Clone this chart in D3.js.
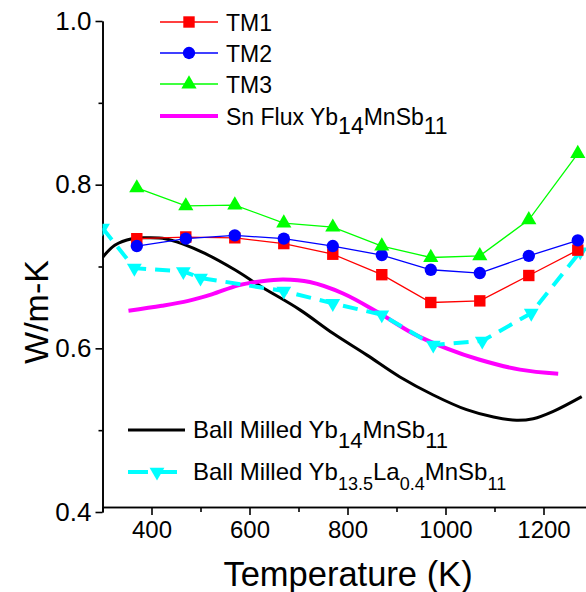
<!DOCTYPE html>
<html><head><meta charset="utf-8">
<script src="https://cdn.jsdelivr.net/npm/d3@7"></script>
<style>
html,body{margin:0;padding:0;background:#fff;}
text{font-family:"Liberation Sans",Arial,sans-serif;fill:#000;}
</style></head>
<body>
<svg id="chart" width="586" height="592"></svg>
<script>
// ---- data ----
const tmTemps = [370, 470, 570, 670, 770, 870, 970, 1070, 1170, 1270];
const tm1 = [0.734, 0.736, 0.735, 0.728, 0.715, 0.690, 0.656, 0.658, 0.689, 0.720];
const tm2 = [0.725, 0.734, 0.738, 0.734, 0.725, 0.714, 0.696, 0.692, 0.713, 0.732];
const tm3 = [0.796, 0.774, 0.775, 0.753, 0.748, 0.725, 0.711, 0.713, 0.757, 0.838];

const snTemps = [353, 421, 475, 523, 577, 625, 669, 723, 791, 862, 934, 1002, 1070, 1152, 1230];
const snFlux  = [0.646, 0.652, 0.658, 0.666, 0.677, 0.682, 0.684, 0.681, 0.667, 0.644, 0.618, 0.600, 0.586, 0.574, 0.569];

const bmTemps = [300, 325, 360, 393, 428, 462, 509, 570, 625, 703, 771, 839, 907, 975, 1043, 1098, 1145, 1179, 1220, 1278];
const bm      = [0.711, 0.726, 0.734, 0.735, 0.734, 0.728, 0.716, 0.696, 0.675, 0.647, 0.618, 0.592, 0.565, 0.543, 0.525, 0.516, 0.512, 0.514, 0.523, 0.541];

const laTemps = [300, 365, 465, 500, 670, 770, 870, 975, 1075, 1175, 1275];
const la      = [0.747, 0.698, 0.694, 0.686, 0.670, 0.655, 0.641, 0.604, 0.609, 0.643, 0.718];

const xMajor = [400, 600, 800, 1000, 1200];
const xMinor = [300, 500, 700, 900, 1100];
const yMajor = [0.4, 0.6, 0.8, 1.0];
const yMinor = [0.5, 0.7, 0.9];

// ---- layout ----
const svg = d3.select("#chart");
const FONT = '"Liberation Sans",Arial,sans-serif';
const x = d3.scaleLinear().domain([300, 1290]).range([102.5, 587.6]);
const y = d3.scaleLinear().domain([0.4, 1.0]).range([512, 21]);
const xAxisY = 507;

svg.append("defs").append("clipPath").attr("id","clip")
  .append("rect").attr("x", x(300)).attr("y", 0).attr("width", 600).attr("height", xAxisY);

// axes
const gx = svg.append("g").attr("transform", `translate(0,${xAxisY})`)
  .call(d3.axisBottom(x).tickValues(xMajor).tickSize(8).tickSizeOuter(0).tickPadding(6).tickFormat(d3.format("d")));
svg.append("g").attr("transform", `translate(0,${xAxisY})`)
  .call(d3.axisBottom(x).tickValues(xMinor).tickSize(5).tickSizeOuter(0).tickFormat(""));
const gy = svg.append("g").attr("transform", `translate(${x(300)},0)`)
  .call(d3.axisLeft(y).tickValues(yMajor).tickSize(7).tickSizeOuter(0).tickPadding(4).tickFormat(d3.format(".1f")));
svg.append("g").attr("transform", `translate(${x(300)},0)`)
  .call(d3.axisLeft(y).tickValues(yMinor).tickSize(4).tickSizeOuter(0).tickFormat(""));
svg.selectAll(".domain, .tick line").attr("stroke","#000").attr("stroke-width",1.6);
gx.selectAll("text").attr("font-size", 24).attr("font-family", FONT).attr("fill","#000");
gy.selectAll("text").attr("font-size", 26).attr("font-family", FONT).attr("fill","#000");

// axis titles
svg.append("text").attr("x", 348).attr("y", 586).attr("text-anchor","middle")
  .attr("font-size", 34.5).text("Temperature (K)");
svg.append("text").attr("transform","translate(48,312) rotate(-90)").attr("text-anchor","middle")
  .attr("font-size", 34).text("W/m-K");

// ---- series ----
const plot = svg.append("g").attr("clip-path","url(#clip)");
const smooth = d3.line().x(d=>x(d[0])).y(d=>y(d[1])).curve(d3.curveCatmullRom.alpha(0.5));
const straight = d3.line().x(d=>x(d[0])).y(d=>y(d[1]));

plot.append("path").datum(d3.zip(bmTemps, bm)).attr("d", smooth)
  .attr("fill","none").attr("stroke","#000").attr("stroke-width",3);
plot.append("path").datum(d3.zip(snTemps, snFlux)).attr("d", smooth)
  .attr("fill","none").attr("stroke","#ff00ff").attr("stroke-width",4);

const triDown = d3.symbol().type(d3.symbolTriangle).size(95);
plot.append("path").datum(d3.zip(laTemps, la)).attr("d", straight)
  .attr("fill","none").attr("stroke","#00ffff").attr("stroke-width",4).attr("stroke-dasharray","15,9");
plot.selectAll(".la").data(d3.zip(laTemps, la)).join("path")
  .attr("d", triDown).attr("fill","#00ffff")
  .attr("transform", d=>`translate(${x(d[0])},${y(d[1])}) rotate(180)`);

const tmSeries = [
  {vals: tm1, color:"#ff0000", sym: d3.symbolSquare, size: 130},
  {vals: tm2, color:"#0000ff", sym: d3.symbolCircle, size: 120},
  {vals: tm3, color:"#00ff00", sym: d3.symbolTriangle, size: 100}
];
tmSeries.forEach(s => {
  const pts = d3.zip(tmTemps, s.vals);
  plot.append("path").datum(pts).attr("d", straight)
    .attr("fill","none").attr("stroke", s.color).attr("stroke-width",1.3);
  plot.selectAll(null).data(pts).join("path")
    .attr("d", d3.symbol().type(s.sym).size(s.size)).attr("fill", s.color)
    .attr("transform", d=>`translate(${x(d[0])},${y(d[1])})`);
});

// ---- legends ----
function label(g, xPos, yPos, parts, size) {
  const t = g.append("text").attr("x", xPos).attr("y", yPos).attr("font-size", size);
  let shift = 0;
  parts.forEach(p => {
    const target = p.sub ? p.shift : 0;
    t.append("tspan").attr("dy", target - shift).attr("font-size", p.size || size).text(p.t);
    shift = target;
  });
  return t;
}
const leg = svg.append("g");
const topRows = [
  {y: 22, color:"#ff0000", sym: d3.symbolSquare, size: 130, w: 1.3, name:[{t:"TM1"}]},
  {y: 53, color:"#0000ff", sym: d3.symbolCircle, size: 120, w: 1.3, name:[{t:"TM2"}]},
  {y: 84, color:"#00ff00", sym: d3.symbolTriangle, size: 100, w: 1.3, name:[{t:"TM3"}]},
  {y: 116, color:"#ff00ff", sym: null, w: 4, name:[{t:"Sn Flux Yb"},{t:"14",sub:true,shift:9},{t:"MnSb"},{t:"11",sub:true,shift:9}]}
];
topRows.forEach(r => {
  leg.append("line").attr("x1",160).attr("x2",218).attr("y1",r.y).attr("y2",r.y)
    .attr("stroke", r.color).attr("stroke-width", r.w);
  if (r.sym) leg.append("path").attr("d", d3.symbol().type(r.sym).size(r.size)())
    .attr("fill", r.color).attr("transform", `translate(189,${r.y})`);
  label(leg, 226, r.y + 8.5, r.name, 23);
});
// bottom legend
leg.append("line").attr("x1",128).attr("x2",185).attr("y1",430).attr("y2",430)
  .attr("stroke","#000").attr("stroke-width",3);
label(leg, 193, 438, [{t:"Ball Milled Yb"},{t:"14",sub:true,shift:10,size:22},{t:"MnSb"},{t:"11",sub:true,shift:10,size:22}], 24);
leg.append("line").attr("x1",128).attr("x2",185).attr("y1",472).attr("y2",472)
  .attr("stroke","#00ffff").attr("stroke-width",4).attr("stroke-dasharray","20,9");
leg.append("path").attr("d", triDown()).attr("fill","#00ffff")
  .attr("transform","translate(157,472) rotate(180)");
label(leg, 193, 480, [{t:"Ball Milled Yb"},{t:"13.5",sub:true,shift:10,size:18},{t:"La"},{t:"0.4",sub:true,shift:10,size:18},{t:"MnSb"},{t:"11",sub:true,shift:10,size:18}], 24);
</script>
</body></html>
